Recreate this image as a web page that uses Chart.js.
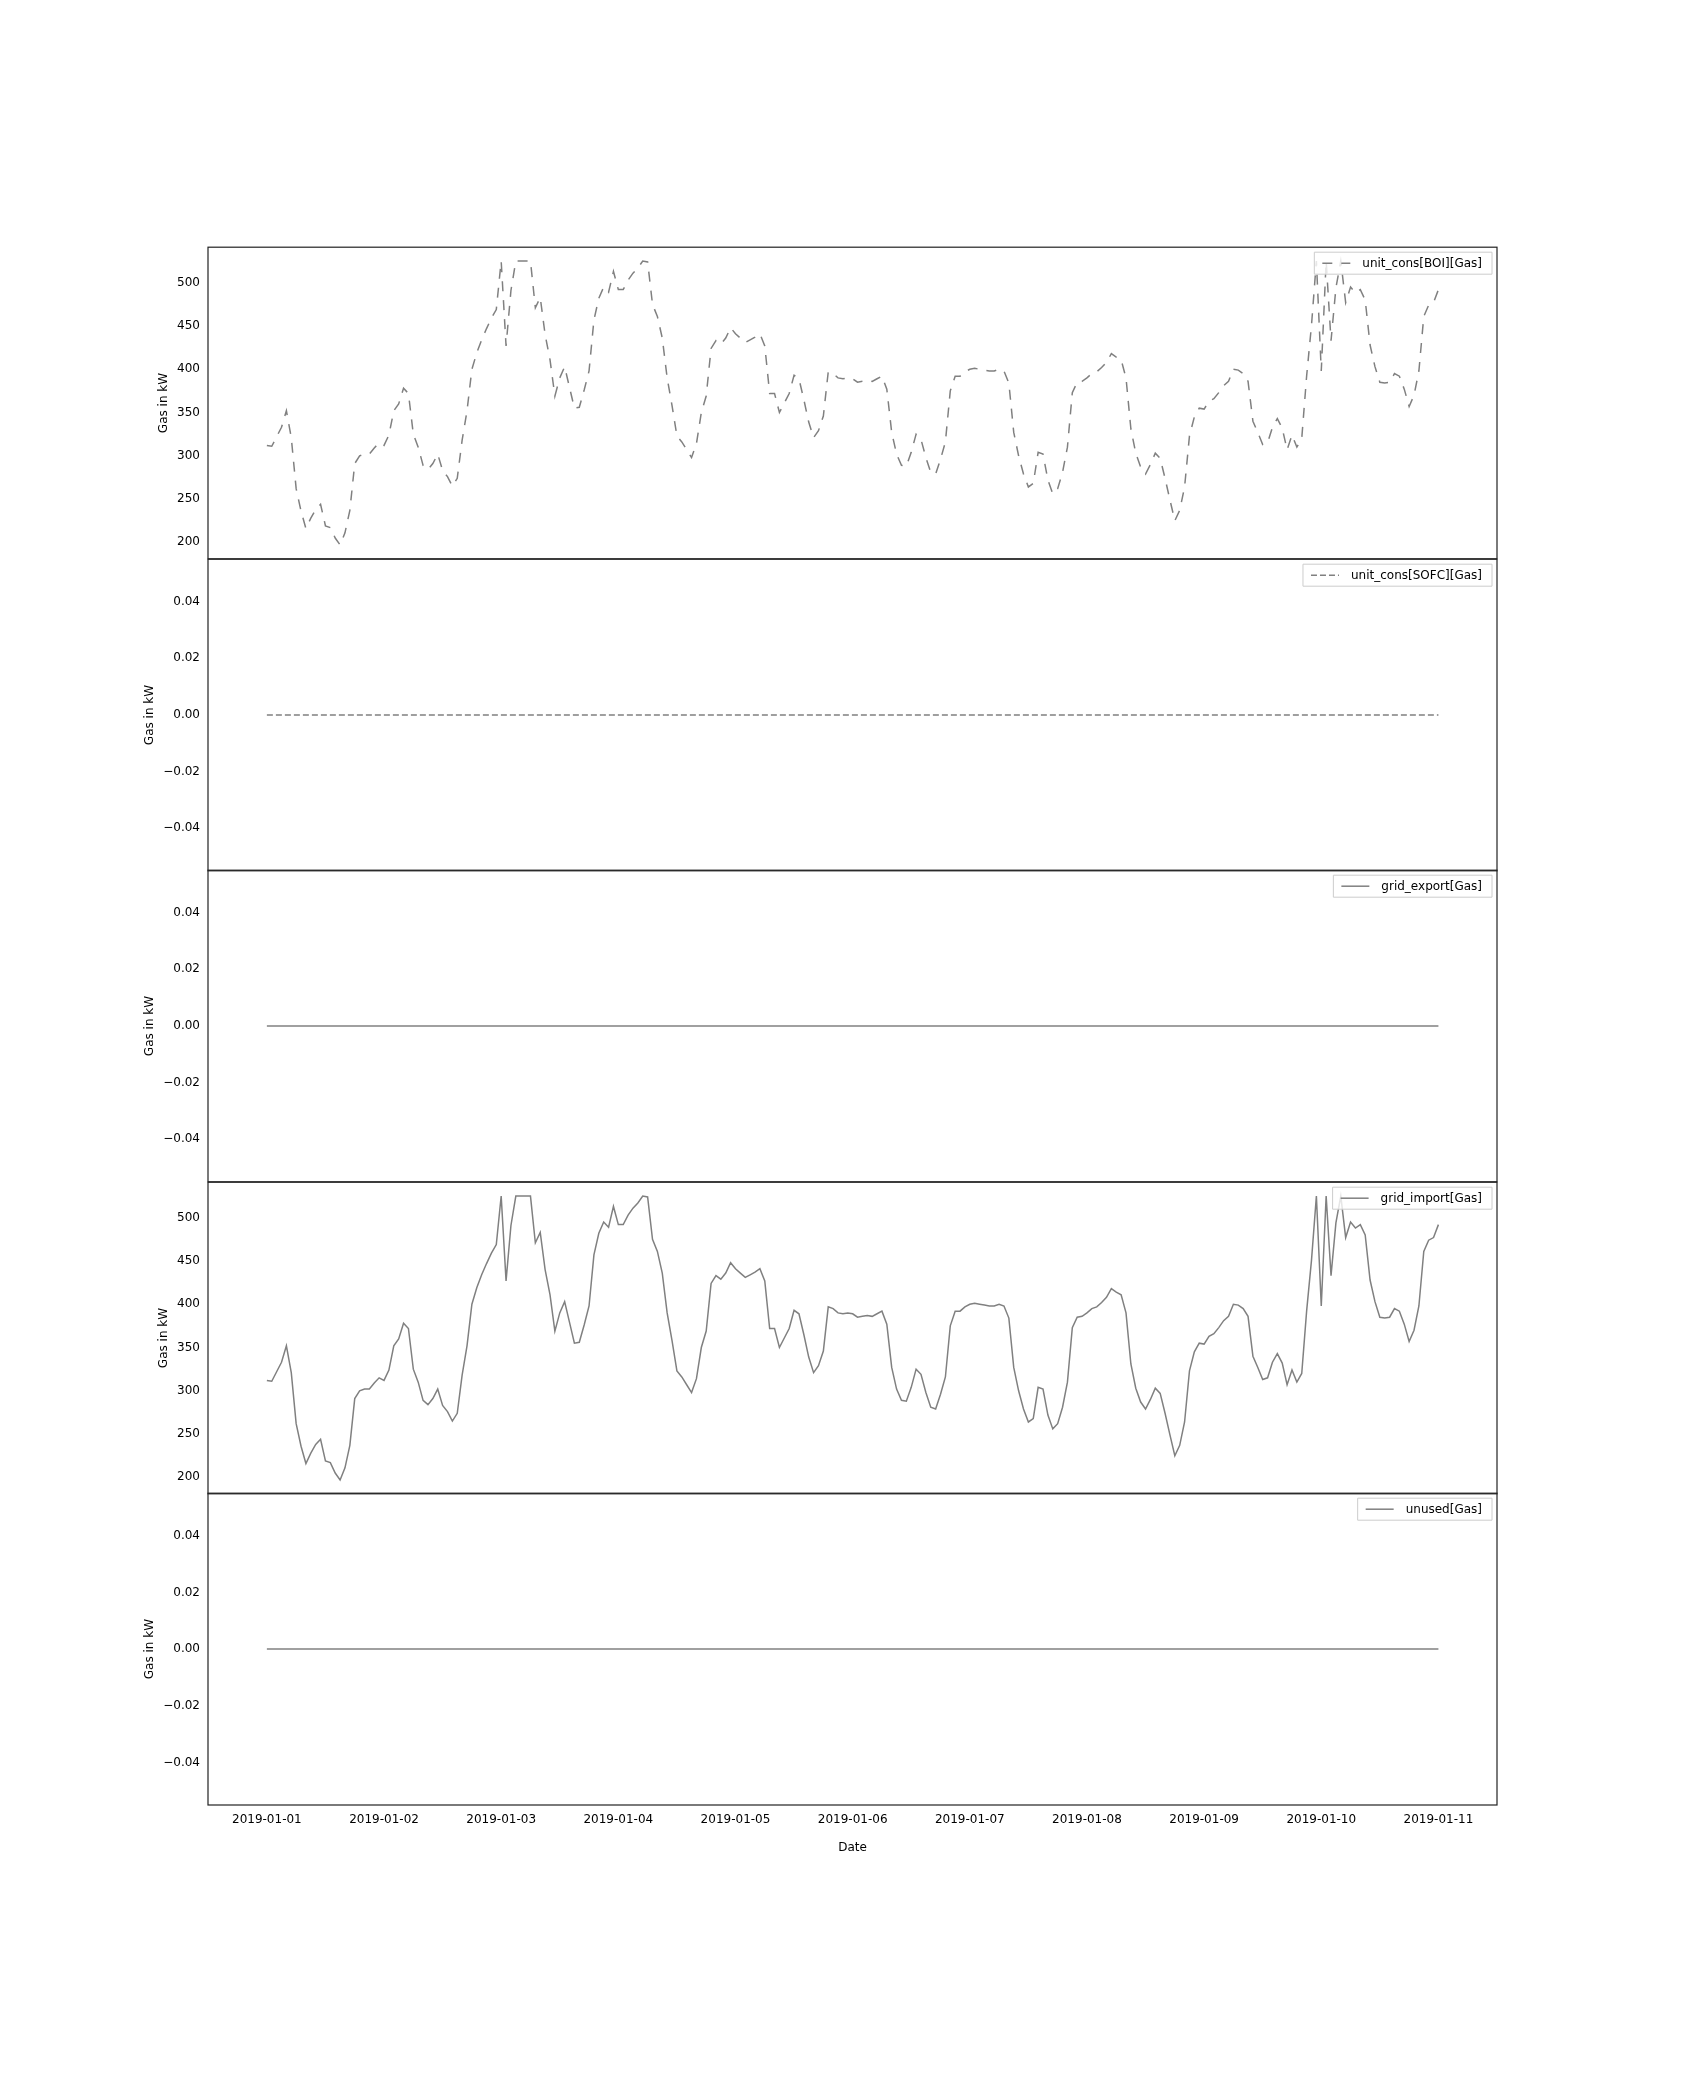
<!DOCTYPE html>
<html>
<head>
<meta charset="utf-8">
<script src="https://cdn.jsdelivr.net/npm/chart.js@4/dist/chart.umd.min.js"></script>
<style>
  html, body { margin: 0; overflow: hidden; }
  body { background: #fff; width: 1684px; height: 2088px; position: relative; }
  canvas { position: absolute; left: 0; }
</style>
</head>
<body>
<canvas id="p1"></canvas>
<canvas id="p2"></canvas>
<canvas id="p3"></canvas>
<canvas id="p4"></canvas>
<canvas id="p5"></canvas>
<script>
// hourly gas demand, 2019-01-01 00:00 .. 2019-01-11 00:00
var gasDemand = [
  312, 311, 322, 333, 352, 321, 262, 236, 216, 228, 238, 244, 219, 217, 205, 197, 211, 237, 291, 300, 302, 302, 309, 315,
  312, 324, 352, 360, 378, 372, 325, 310, 289, 284, 291, 302, 283, 276, 265, 274, 318, 352, 400, 419, 434, 447, 459, 469,
  525, 427, 491, 525, 525, 525, 525, 471, 483, 440, 411, 369, 390, 403, 379, 355, 356, 376, 398, 457, 482, 495, 489, 513,
  492, 492, 503, 511, 517, 525, 524, 475, 461, 436, 390, 358, 323, 316, 307, 298, 314, 350, 369, 424, 433, 429, 436, 448,
  441, 436, 431, 434, 437, 441, 427, 372, 372, 350, 361, 372, 393, 389, 365, 339, 321, 329, 346, 397, 395, 390, 389, 390,
  389, 385, 386, 387, 386, 389, 392, 377, 327, 302, 289, 288, 304, 325, 319, 298, 281, 279, 296, 316, 375, 392, 392, 397,
  400, 401, 400, 399, 398, 398, 400, 398, 384, 327, 300, 279, 264, 268, 304, 302, 272, 256, 262, 281, 310, 373, 385, 386,
  390, 395, 397, 402, 408, 418, 414, 411, 390, 331, 303, 287, 279, 290, 303, 297, 274, 249, 225, 237, 264, 323, 345, 355,
  354, 363, 366, 373, 381, 386, 400, 399, 395, 386, 340, 327, 313, 315, 333, 343, 332, 307, 324, 310, 320, 392, 451, 525,
  398, 525, 433, 494, 525, 477, 495, 488, 492, 480, 428, 403, 385, 384, 385, 395, 392, 377, 357, 370, 398, 461, 474, 477,
  492
];
var zeroSeries = gasDemand.map(function() { return 0; });
var dateTicks = ['2019-01-01', '2019-01-02', '2019-01-03', '2019-01-04', '2019-01-05',
                 '2019-01-06', '2019-01-07', '2019-01-08', '2019-01-09', '2019-01-10', '2019-01-11'];
var gasTicks = [200, 250, 300, 350, 400, 450, 500];
var zeroTicks = [-0.04, -0.02, 0, 0.02, 0.04];

var panels = [
  { id: 'p1', label: 'unit_cons[BOI][Gas]', data: gasDemand, dash: [10, 9], ticks: gasTicks, min: 181, max: 541 },
  { id: 'p2', label: 'unit_cons[SOFC][Gas]', data: zeroSeries, dash: [6, 3], ticks: zeroTicks, min: -0.055, max: 0.055 },
  { id: 'p3', label: 'grid_export[Gas]', data: zeroSeries, dash: [], ticks: zeroTicks, min: -0.055, max: 0.055 },
  { id: 'p4', label: 'grid_import[Gas]', data: gasDemand, dash: [], ticks: gasTicks, min: 181, max: 541 },
  { id: 'p5', label: 'unused[Gas]', data: zeroSeries, dash: [], ticks: zeroTicks, min: -0.055, max: 0.055 }
];

var PLOT_TOP = 247, PANEL_H = 311.6, PAD = 10, X_AXIS_H = 50;
var FONT = 'DejaVu Sans';
var GREY = '#808080';

function yLabel(v, ticks) {
  if (ticks === zeroTicks) return (v < 0 ? '\u22120.0' : '0.0') + Math.round(Math.abs(v) * 100);
  return String(v);
}

// frame, y title and matplotlib-like legend box
var framePlugin = {
  id: 'frame',
  afterDatasetsDraw: function(chart) {
    var a = chart.chartArea, ctx = chart.ctx;
    var ds = chart.data.datasets[0];
    var ticks = chart.options.plugins.frame.ticks;
    ctx.save();
    ctx.strokeStyle = '#222';
    ctx.lineWidth = 1.2;
    ctx.strokeRect(a.left, a.top, a.right - a.left, a.bottom - a.top);

    // y axis title
    ctx.font = '12px ' + FONT;
    var maxW = 0;
    ticks.forEach(function(v) { maxW = Math.max(maxW, ctx.measureText(yLabel(v, ticks)).width); });
    ctx.fillStyle = '#000';
    ctx.translate(a.left - 5 - 4 - maxW - 12, (a.top + a.bottom) / 2);
    ctx.rotate(-Math.PI / 2);
    ctx.textAlign = 'center';
    ctx.textBaseline = 'middle';
    ctx.fillText('Gas in kW', 0, 0);
    ctx.setTransform(1, 0, 0, 1, 0, 0);

    // legend
    ctx.font = '12px ' + FONT;
    ctx.textAlign = 'left';
    var tw = ctx.measureText(ds.label).width;
    var w = tw + 58, h = 22;
    var x = a.right - 5 - w, y = a.top + 5;
    ctx.fillStyle = 'rgba(255,255,255,0.8)';
    ctx.strokeStyle = '#ccc';
    ctx.lineWidth = 1;
    ctx.beginPath();
    ctx.rect(x, y, w, h);
    ctx.fill();
    ctx.stroke();
    ctx.strokeStyle = GREY;
    ctx.lineWidth = 1.5;
    ctx.setLineDash(ds.borderDash.length ? ds.borderDash : []);
    ctx.beginPath();
    ctx.moveTo(x + 8, y + h / 2);
    ctx.lineTo(x + 36, y + h / 2);
    ctx.stroke();
    ctx.setLineDash([]);
    ctx.fillStyle = '#000';
    ctx.textBaseline = 'middle';
    ctx.fillText(ds.label, x + 48, y + h / 2 + 1);
    ctx.restore();
  }
};

panels.forEach(function(p, idx) {
  var last = idx === panels.length - 1;
  var canvas = document.getElementById(p.id);
  var h = Math.round(PANEL_H + 2 * PAD + (last ? X_AXIS_H - PAD : 0));
  canvas.style.top = Math.round(PLOT_TOP + idx * PANEL_H - PAD) + 'px';
  canvas.style.width = '1684px';
  canvas.style.height = h + 'px';
  canvas.width = 1684;
  canvas.height = h;

  new Chart(canvas.getContext('2d'), {
    type: 'line',
    data: {
      datasets: [{
        label: p.label,
        data: p.data.map(function(v, i) { return { x: i, y: v }; }),
        borderColor: GREY,
        borderWidth: 1.5,
        borderDash: p.dash,
        pointRadius: 0,
        tension: 0,
        fill: false
      }]
    },
    options: {
      responsive: false,
      animation: false,
      devicePixelRatio: 1,
      layout: { padding: { left: 0, right: 187, top: PAD, bottom: last ? 0 : PAD } },
      plugins: { legend: { display: false }, tooltip: { enabled: false }, frame: { ticks: p.ticks } },
      scales: {
        x: {
          type: 'linear',
          min: -12.06,
          max: 252,
          display: last,
          grid: { display: false, drawOnChartArea: false, tickLength: 5, tickColor: '#000' },
          border: { display: false },
          ticks: {
            color: '#000',
            font: { family: FONT, size: 12 },
            maxRotation: 0,
            autoSkip: false,
            callback: function(v) { return dateTicks[v / 24]; }
          },
          afterBuildTicks: function(axis) {
            axis.ticks = dateTicks.map(function(d, i) { return { value: i * 24 }; });
          },
          afterFit: function(axis) { if (last) axis.height = X_AXIS_H; else axis.height = 0; },
          title: { display: true, text: 'Date', color: '#000', font: { family: FONT, size: 12 }, padding: 0 }
        },
        y: {
          min: p.min,
          max: p.max,
          grid: { display: false, drawOnChartArea: false, tickLength: 5, tickColor: '#000' },
          border: { display: false },
          ticks: {
            color: '#000',
            font: { family: FONT, size: 12 },
            callback: function(v) { return yLabel(v, p.ticks); }
          },
          afterBuildTicks: function(axis) {
            axis.ticks = p.ticks.map(function(v) { return { value: v }; });
          },
          afterFit: function(axis) { axis.width = 208; }
        }
      }
    },
    plugins: [framePlugin]
  });
});
</script>
</body>
</html>
